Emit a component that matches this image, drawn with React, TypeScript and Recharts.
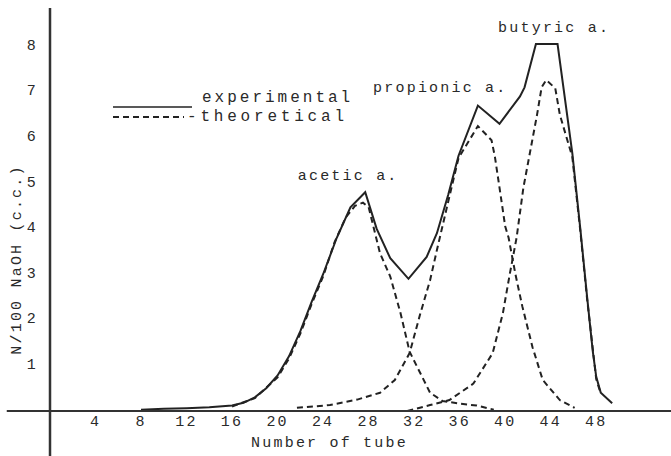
import { LineChart, Line, XAxis, YAxis, ReferenceLine, ReferenceDot } from "recharts";

// tube numbers and readings (c.c. of N/100 NaOH)
const expTubes = [8, 10, 12, 14, 16, 17, 18, 19, 20, 21, 22, 23, 24, 25.2, 26.4, 27.7, 28.7, 29.9, 31.5, 33.1, 34, 35, 35.9, 37.6, 39.5, 41.3, 41.7, 42.7, 44.6, 45.9, 46.6, 47.2, 47.7, 48, 48.4, 49.4];
const expValues = [0.03, 0.05, 0.06, 0.08, 0.12, 0.18, 0.3, 0.5, 0.78, 1.2, 1.75, 2.4, 3.0, 3.8, 4.47, 4.8, 4.0, 3.35, 2.9, 3.38, 3.9, 4.75, 5.6, 6.7, 6.3, 6.9, 7.1, 8.05, 8.05, 5.65, 4.0, 2.5, 1.3, 0.75, 0.4, 0.17];

const aceticTubes = [16, 18, 20, 21, 22, 23, 24, 25, 26, 26.8, 27.5, 28, 29, 29.9, 30.8, 31.6, 32.5, 33.4, 34.5, 36, 37.5, 39];
const aceticValues = [0.1, 0.28, 0.74, 1.15, 1.7, 2.35, 2.95, 3.7, 4.25, 4.5, 4.57, 4.47, 3.46, 2.95, 2.15, 1.3, 0.85, 0.4, 0.22, 0.16, 0.12, 0.03];

const propionicTubes = [21.7, 24.6, 27, 29, 30.3, 31.6, 32.5, 33.4, 34, 35, 35.9, 37.6, 38.8, 39.1, 39.5, 40, 40.3, 40.9, 41.5, 42.4, 43.3, 44.8, 46.1];
const propionicValues = [0.07, 0.13, 0.25, 0.4, 0.68, 1.27, 2.1, 2.87, 3.53, 4.6, 5.55, 6.25, 5.94, 5.57, 4.9, 4.05, 3.8, 3.0, 2.3, 1.4, 0.68, 0.24, 0.07];

const butyricTubes = [31.4, 33.4, 35.1, 37.2, 38.9, 39.8, 40.4, 41, 41.6, 42.2, 42.8, 43.2, 43.6, 44.4, 44.8, 45.9, 46.6, 47.2, 48, 48.4];
const butyricValues = [0.0, 0.13, 0.24, 0.6, 1.27, 2.15, 3.0, 3.8, 4.9, 5.7, 6.5, 7.1, 7.26, 7.08, 6.5, 5.57, 3.95, 2.45, 0.7, 0.38];

const xTicks = [4, 8, 12, 16, 20, 24, 28, 32, 36, 40, 44, 48];
const yTicks = [1, 2, 3, 4, 5, 6, 7, 8];

const peakNotes = [
  { t: 26.2, v: 5.15, text: "acetic a." },
  { t: 34.3, v: 7.08, text: "propionic a." },
  { t: 44.3, v: 8.4, text: "butyric a." },
];

const toRows = (ts: number[], vs: number[]) => ts.map((t, i) => ({ t, v: vs[i] }));

const experimental = toRows(expTubes, expValues);
const acetic = toRows(aceticTubes, aceticValues);
const propionic = toRows(propionicTubes, propionicValues);
const butyric = toRows(butyricTubes, butyricValues);

const ink = "#222";
const typeFont = "'Liberation Mono', 'Courier New', monospace";
const typeText = { fontFamily: typeFont, fontSize: 15, letterSpacing: 2.2, fill: "#2a2a2a" };

function XTick({ x, y, payload }: any) {
  return (
    <text x={x} y={y + 11} textAnchor="middle" dominantBaseline="central" {...typeText}>
      {payload.value}
    </text>
  );
}

function YTick({ x, y, payload }: any) {
  return (
    <text x={x} y={y} textAnchor="end" dominantBaseline="central" {...typeText}>
      {payload.value}
    </text>
  );
}

// hand-made key, sits over the chart like the typed one
function KeyBox() {
  return (
    <svg width={260} height={40} style={{ position: "absolute", left: 112, top: 88 }}>
      <line x1={1} y1={19} x2={80} y2={19} stroke={ink} strokeWidth={1.6} />
      <text x={90} y={10} dominantBaseline="central" {...typeText} fontSize={16} letterSpacing={3}>
        experimental
      </text>
      <line x1={1} y1={29} x2={72} y2={29} stroke={ink} strokeWidth={2} strokeDasharray="6 4" />
      <text x={75} y={29} dominantBaseline="central" {...typeText} fontSize={16} letterSpacing={3.8}>
        -theoretical
      </text>
    </svg>
  );
}

export default function App() {
  return (
    <div style={{ position: "fixed", left: 0, top: 0, width: 671, height: 456, background: "#fff" }}>
      <LineChart width={671} height={456} margin={{ top: 8, right: 0, bottom: 0, left: 0 }}>
        <XAxis
          type="number"
          dataKey="t"
          domain={[0, 54.57]}
          ticks={xTicks}
          height={45}
          tickSize={0}
          tickMargin={0}
          tickLine={false}
          axisLine={{ stroke: "#333", strokeWidth: 2 }}
          tick={<XTick />}
          label={{
            content: ({ viewBox }: any) => (
              <text
                x={viewBox.x + viewBox.width / 2 - 31}
                y={viewBox.y + 32}
                textAnchor="middle"
                dominantBaseline="central"
                {...typeText}
              >
                Number of tube
              </text>
            ),
          }}
        />
        <YAxis
          type="number"
          domain={[0, 8.84]}
          ticks={yTicks}
          width={50}
          tickSize={0}
          tickMargin={12}
          tickLine={false}
          axisLine={{ stroke: "#333", strokeWidth: 2.5 }}
          tick={<YTick />}
          label={{
            content: ({ viewBox }: any) => {
              const cx = viewBox.x + 17;
              const cy = viewBox.y + viewBox.height / 2 + 50;
              return (
                <text
                  x={cx}
                  y={cy}
                  transform={`rotate(-90 ${cx} ${cy})`}
                  textAnchor="middle"
                  dominantBaseline="central"
                  {...typeText}
                >
                  N/100 NaOH (c.c.)
                </text>
              );
            },
          }}
        />
        <ReferenceLine
          segment={[{ x: -3.8, y: 0 }, { x: 0, y: 0 }]}
          ifOverflow="visible"
          stroke="#333"
          strokeWidth={2}
        />
        <ReferenceLine
          segment={[{ x: 0, y: -1 }, { x: 0, y: 0 }]}
          ifOverflow="visible"
          stroke="#333"
          strokeWidth={2.5}
        />
        <Line data={acetic} dataKey="v" type="linear" stroke={ink} strokeWidth={2} strokeDasharray="6 4" dot={false} isAnimationActive={false} />
        <Line data={propionic} dataKey="v" type="linear" stroke={ink} strokeWidth={2} strokeDasharray="6 4" dot={false} isAnimationActive={false} />
        <Line data={butyric} dataKey="v" type="linear" stroke={ink} strokeWidth={2} strokeDasharray="6 4" dot={false} isAnimationActive={false} />
        <Line data={experimental} dataKey="v" type="linear" stroke={ink} strokeWidth={2} dot={false} isAnimationActive={false} />
        {peakNotes.map((n) => (
          <ReferenceDot
            key={n.text}
            x={n.t}
            y={n.v}
            r={1}
            shape={(p: any) => (
              <text x={p.cx} y={p.cy} textAnchor="middle" dominantBaseline="central" {...typeText}>
                {n.text}
              </text>
            )}
          />
        ))}
      </LineChart>
      <KeyBox />
    </div>
  );
}
